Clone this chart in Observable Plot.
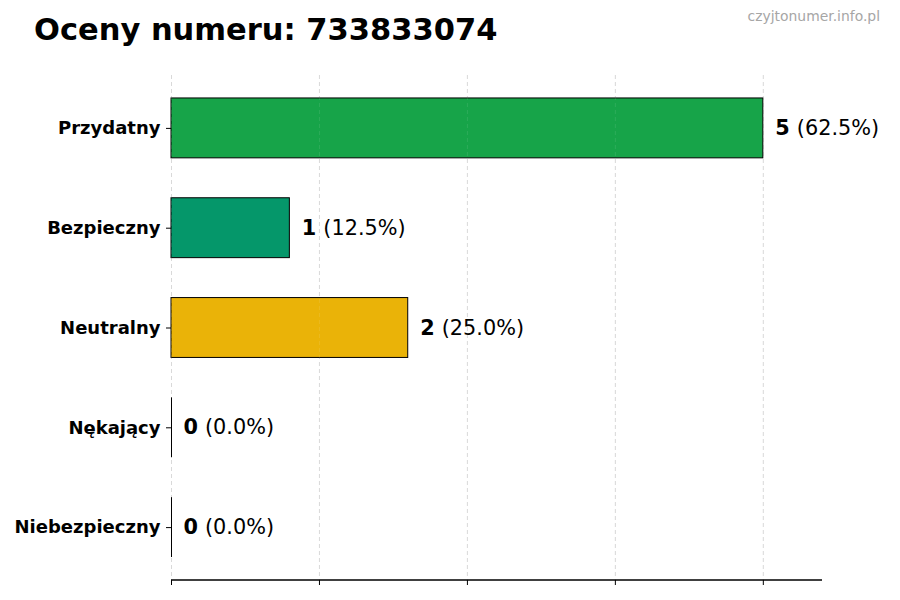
<!DOCTYPE html>
<html>
<head>
<meta charset="utf-8">
<script src="https://cdn.jsdelivr.net/npm/d3@7"></script>
<script src="https://cdn.jsdelivr.net/npm/@observablehq/plot@0.6"></script>
<style>
  body { margin: 0; background: #fff; }
  #wrap { position: relative; width: 900px; height: 600px; font-family: "DejaVu Sans", sans-serif; }
  #title { position: absolute; left: 34px; top: 15px; font-size: 30.5px; font-weight: bold; line-height: 1; color: #000; white-space: nowrap; }
  #mark { position: absolute; right: 20px; top: 10px; font-size: 13.9px; line-height: 1; color: #a6a6a6; white-space: nowrap; }
  #chart svg { position: absolute; left: 0; top: 0; }
  g[aria-label="y-axis tick label"] text { font-weight: bold; font-size: 18px; }
</style>
</head>
<body>
<div id="wrap">
  <div id="chart"></div>
  <div id="title">Oceny numeru: 733833074</div>
  <div id="mark">czyjtonumer.info.pl</div>
</div>
<script>
const categories = ["Przydatny", "Bezpieczny", "Neutralny", "Nękający", "Niebezpieczny"];
const counts = [5, 1, 2, 0, 0];
const percents = ["62.5", "12.5", "25.0", "0.0", "0.0"];
const colors = ["#17a449", "#05976a", "#eab308", "#dc2626", "#991b1b"];
const xTicks = [0, 1.25, 2.5, 3.75, 5];
const xDomain = [0, 5.5];

const data = categories.map((c, i) => ({cat: c, n: counts[i], pct: percents[i], color: colors[i]}));
const zeros = data.filter(d => d.n === 0);

const chart = Plot.plot({
  width: 900,
  height: 600,
  marginLeft: 171,
  marginRight: 78,
  marginTop: 75,
  marginBottom: 20,
  style: {fontFamily: "DejaVu Sans, sans-serif", background: "transparent"},
  x: {domain: xDomain, axis: null},
  y: {type: "band", domain: categories, paddingInner: 0.4, paddingOuter: 0.23, round: false, label: null},
  marks: [
    Plot.gridX(xTicks, {stroke: "#cccccc", strokeOpacity: 1, strokeDasharray: "4,3", strokeWidth: 0.8}),
    Plot.barX(data, {x: "n", y: "cat", fill: "color", stroke: "#000", strokeWidth: 1}),
    Plot.gridX(xTicks, {stroke: "#ffffff", strokeOpacity: 0.12, strokeDasharray: "4,3", strokeWidth: 0.8}),
    Plot.tickX(zeros, {x: "n", y: "cat", stroke: "#000", strokeWidth: 1}),
    Plot.text(data, {x: "n", y: "cat", text: d => String(d.n), dx: 12, textAnchor: "start", fontWeight: "bold", fontSize: 20.8, fill: "#000"}),
    Plot.text(data, {x: "n", y: "cat", text: d => "(" + d.pct + "%)", dx: 33.5, textAnchor: "start", fontSize: 20.8, fill: "#000"}),
    Plot.axisY({tickSize: 5, tickPadding: 6, label: null}),
    Plot.axisX(xTicks, {tickSize: 5, tickFormat: () => "", label: null})
  ]
});

// bottom spine drawn from the x scale
const xs = chart.scale("x");
d3.select(chart).append("line")
  .attr("x1", xs.apply(xDomain[0]))
  .attr("x2", xs.apply(xDomain[1]))
  .attr("y1", 600 - 20)
  .attr("y2", 600 - 20)
  .attr("stroke", "#000")
  .attr("stroke-width", 1.3);

document.getElementById("chart").appendChild(chart);
</script>
</body>
</html>
